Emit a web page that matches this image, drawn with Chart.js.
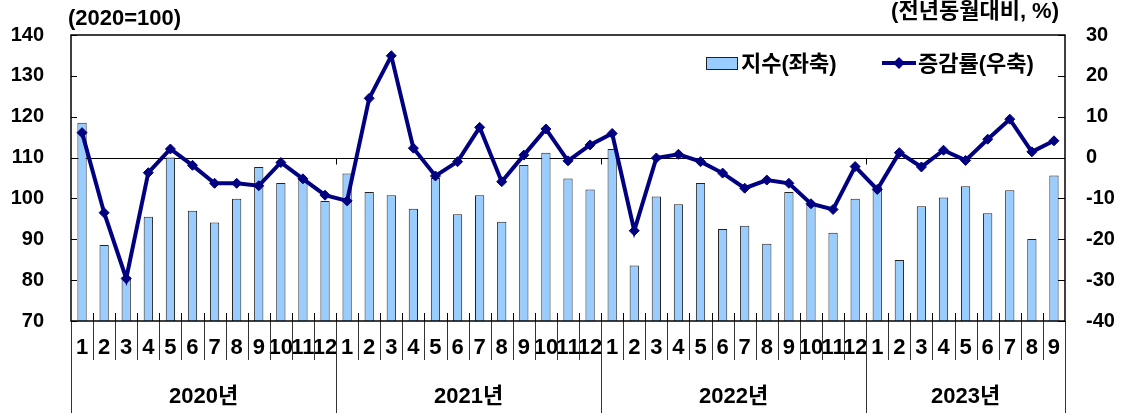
<!DOCTYPE html>
<html>
<head>
<meta charset="utf-8">
<script src="https://cdn.jsdelivr.net/npm/chart.js@4.4.1/dist/chart.umd.min.js"></script>
<style>
  html, body { margin: 0; padding: 0; background: #ffffff; }
  #wrap { width: 1126px; height: 413px; position: relative; }
</style>
</head>
<body>
<div id="wrap"><canvas id="mainChart"></canvas></div>
<script>
// ── data ─────────────────────────────────────────────
const months = [
  '1','2','3','4','5','6','7','8','9','10','11','12',
  '1','2','3','4','5','6','7','8','9','10','11','12',
  '1','2','3','4','5','6','7','8','9','10','11','12',
  '1','2','3','4','5','6','7','8','9'
];
const yearLabels = ['2020년', '2021년', '2022년', '2023년'];
const yearCounts = [12, 12, 12, 9];

// 지수 (2020=100), 좌축
const indexValues = [
  118.5, 88.6, 80.8, 95.5, 110.0, 97.0, 94.1, 99.9, 107.7, 103.8, 104.8, 99.4,
  106.1, 101.6, 100.8, 97.5, 105.0, 96.1, 100.8, 94.3, 108.2, 111.2, 104.9, 102.2,
  112.1, 83.6, 100.5, 98.6, 103.8, 92.5, 93.3, 88.9, 101.6, 98.4, 91.6, 99.9,
  102.9, 84.9, 98.1, 100.2, 103.0, 96.4, 102.0, 90.1, 105.6
];
// 증감률 (전년동월대비, %), 우축
const yoyValues = [
  6.1, -13.5, -29.6, -3.7, 2.1, -1.9, -6.3, -6.3, -6.9, -1.2, -5.2, -9.2,
  -10.6, 14.5, 24.9, 2.3, -4.5, -1.0, 7.4, -5.9, 0.6, 7.0, -0.8, 3.1,
  5.9, -17.9, -0.1, 0.8, -1.0, -3.8, -7.5, -5.5, -6.3, -11.3, -12.7, -2.2,
  -7.8, 1.2, -2.3, 1.8, -0.7, 4.5, 9.4, 1.4, 4.1
];
const leftTicks = [70, 140, 10];   // min, max, step
const rightTicks = [-40, 30, 10];

const FONT = "'Liberation Sans', Arial, 'Noto Sans CJK KR', sans-serif";
const BAR_FILL = '#99CCFF';
const LINE_COLOR = '#000080';

// ── frame, ticks, category table, legend ─────────────
const decorPlugin = {
  id: 'decor',
  beforeDatasetsDraw(chart) {
    const { ctx, chartArea: ca, scales } = chart;
    const y0 = Math.round(scales.y.getPixelForValue(110)) + 0.5;
    ctx.save();
    ctx.strokeStyle = '#000';
    ctx.lineWidth = 1;
    ctx.beginPath();
    ctx.moveTo(ca.left, y0);
    ctx.lineTo(ca.right, y0);
    ctx.stroke();
    ctx.restore();
  },
  afterDraw(chart) {
    const { ctx, chartArea: ca, scales } = chart;
    const xs = scales.x;
    const n = months.length;
    const bound = i => {
      if (i <= 0) return ca.left;
      if (i >= n) return ca.right;
      return (xs.getPixelForValue(i - 1) + xs.getPixelForValue(i)) / 2;
    };
    ctx.save();

    // axis ticks inside the plot
    ctx.strokeStyle = '#000';
    ctx.lineWidth = 1;
    ctx.beginPath();
    for (let v = leftTicks[0]; v <= leftTicks[1]; v += leftTicks[2]) {
      const y = Math.round(scales.y.getPixelForValue(v)) + 0.5;
      ctx.moveTo(ca.left, y); ctx.lineTo(ca.left + 6, y);
    }
    for (let v = rightTicks[0]; v <= rightTicks[1]; v += rightTicks[2]) {
      const y = Math.round(scales.y1.getPixelForValue(v)) + 0.5;
      ctx.moveTo(ca.right, y); ctx.lineTo(ca.right - 7, y);
    }
    for (let i = 1; i < n; i++) {
      const x = Math.round(bound(i)) + 0.5;
      ctx.moveTo(x, ca.bottom); ctx.lineTo(x, ca.bottom - 8);
    }
    // year ticks hanging from the 110 line
    const y0 = Math.round(scales.y.getPixelForValue(110)) + 0.5;
    let acc = 0;
    for (let k = 0; k < yearCounts.length - 1; k++) {
      acc += yearCounts[k];
      const x = Math.round(bound(acc)) + 0.5;
      ctx.moveTo(x, y0); ctx.lineTo(x, y0 + 6);
    }
    ctx.stroke();

    // category table below the plot
    ctx.strokeStyle = '#333';
    ctx.beginPath();
    for (let i = 1; i < n; i++) {
      const x = Math.round(bound(i)) + 0.5;
      ctx.moveTo(x, ca.bottom); ctx.lineTo(x, ca.bottom + 39);
    }
    acc = 0;
    const yearEdges = [0];
    yearCounts.forEach(c => { acc += c; yearEdges.push(acc); });
    yearEdges.forEach(e => {
      const x = Math.round(bound(e)) + 0.5;
      ctx.moveTo(x, ca.bottom); ctx.lineTo(x, chart.height);
    });
    ctx.stroke();

    ctx.fillStyle = '#000';
    ctx.font = 'bold 22px ' + FONT;
    ctx.textAlign = 'center';
    ctx.textBaseline = 'middle';
    for (let k = 0; k < yearLabels.length; k++) {
      const x = (bound(yearEdges[k]) + bound(yearEdges[k + 1])) / 2;
      ctx.fillText(yearLabels[k], x, 397);
    }

    // plot frame
    ctx.strokeStyle = '#000';
    ctx.lineWidth = 1.5;
    ctx.strokeRect(ca.left, ca.top, ca.right - ca.left, ca.bottom - ca.top);

    // unit labels
    ctx.font = 'bold 22px ' + FONT;
    ctx.textAlign = 'left';
    ctx.fillText('(2020=100)', 68, 19);
    ctx.textAlign = 'right';
    ctx.fillText('(전년동월대비, %)', 1059, 12);

    // legend
    ctx.textAlign = 'left';
    ctx.font = 'bold 22px ' + FONT;
    ctx.fillStyle = BAR_FILL;
    ctx.fillRect(706, 57, 31, 12);
    ctx.strokeStyle = '#222';
    ctx.lineWidth = 1;
    ctx.strokeRect(706.5, 57.5, 31, 12);
    ctx.fillStyle = '#000';
    ctx.fillText('지수(좌축)', 741, 65);

    ctx.strokeStyle = LINE_COLOR;
    ctx.lineWidth = 4;
    ctx.beginPath();
    ctx.moveTo(882, 63); ctx.lineTo(916, 63);
    ctx.stroke();
    ctx.fillStyle = LINE_COLOR;
    ctx.beginPath();
    ctx.moveTo(899, 57); ctx.lineTo(905, 63); ctx.lineTo(899, 69); ctx.lineTo(893, 63);
    ctx.closePath();
    ctx.fill();
    ctx.fillStyle = '#000';
    ctx.fillText('증감률(우축)', 918, 65);

    ctx.restore();
  }
};

// fixed axis widths; drop the label overhang padding so the plot spans 35..321
const fitY = w => s => { s.width = w; s.paddingTop = 0; s.paddingBottom = 0; };

// ── chart ────────────────────────────────────────────
new Chart(document.getElementById('mainChart'), {
  data: {
    labels: months,
    datasets: [
      {
        type: 'line',
        label: '증감률(우축)',
        data: yoyValues,
        yAxisID: 'y1',
        borderColor: LINE_COLOR,
        backgroundColor: LINE_COLOR,
        borderWidth: 4,
        pointStyle: 'rectRot',
        pointRadius: 5,
        pointBorderWidth: 1,
        tension: 0,
        order: 1
      },
      {
        type: 'bar',
        label: '지수(좌축)',
        data: indexValues,
        yAxisID: 'y',
        backgroundColor: BAR_FILL,
        borderColor: '#222',
        borderWidth: 1,
        barPercentage: 0.42,
        categoryPercentage: 1,
        order: 2
      }
    ]
  },
  options: {
    responsive: true,
    maintainAspectRatio: false,
    animation: false,
    layout: { padding: { top: 35, left: 0, right: 0, bottom: 0 } },
    plugins: {
      legend: { display: false },
      tooltip: { enabled: false }
    },
    scales: {
      x: {
        grid: { display: false, drawTicks: false },
        border: { display: false },
        ticks: {
          autoSkip: false, maxRotation: 0, minRotation: 0,
          color: '#000', padding: 14,
          font: { family: FONT, size: 22, weight: 'bold' }
        },
        afterFit: s => { s.height = 92; }
      },
      y: {
        position: 'left',
        min: leftTicks[0], max: leftTicks[1],
        grid: { display: false, drawTicks: false },
        border: { display: false },
        ticks: {
          stepSize: leftTicks[2], color: '#000', padding: 27,
          font: { family: FONT, size: 20, weight: 'bold' }
        },
        afterFit: fitY(71)
      },
      y1: {
        position: 'right',
        min: rightTicks[0], max: rightTicks[1],
        grid: { display: false, drawTicks: false },
        border: { display: false },
        ticks: {
          stepSize: rightTicks[2], color: '#000', padding: 21,
          font: { family: FONT, size: 20, weight: 'bold' }
        },
        afterFit: fitY(61)
      }
    }
  },
  plugins: [decorPlugin]
});
</script>
</body>
</html>
